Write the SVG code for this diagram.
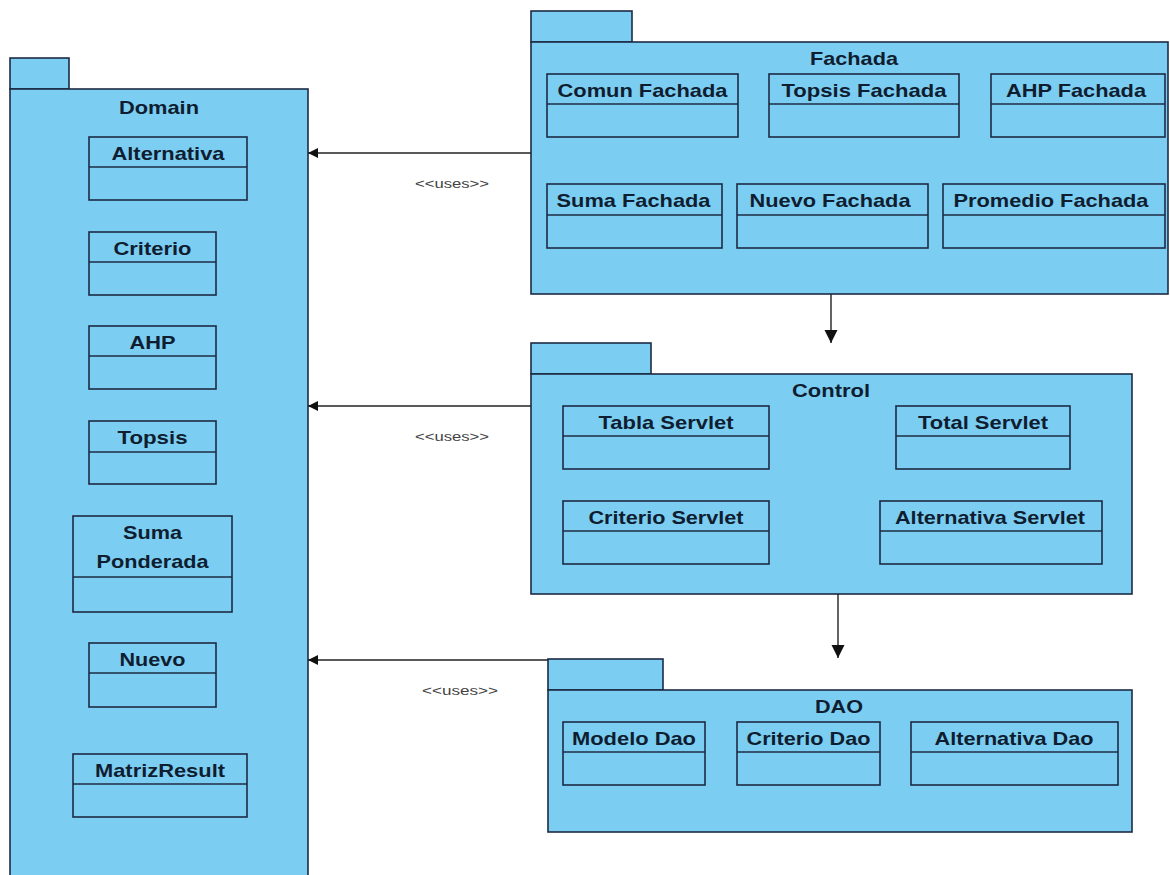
<svg xmlns="http://www.w3.org/2000/svg" width="1170" height="875" viewBox="0 0 1170 875">
  <style>
    .pkg { fill: #7ccdf2; stroke: #1c2b44; stroke-width: 1.6; }
    .cls { fill: #7ccdf2; stroke: #1c2b44; stroke-width: 1.6; }
    .div { stroke: #1c2b44; stroke-width: 1.6; }
    .t { font-family: "Liberation Sans", Arial, sans-serif; font-weight: bold; font-size: 19px; fill: #0f1d30; text-anchor: middle; }
    .conn { stroke: #222; stroke-width: 1.4; fill: none; }
    .lbl { font-family: "Liberation Sans", Arial, sans-serif; font-size: 12px; fill: #444; text-anchor: middle; }
  </style>
  <defs>
    <marker id="arrow" viewBox="0 0 10 10" refX="10" refY="5" markerWidth="10" markerHeight="10" markerUnits="userSpaceOnUse" orient="auto">
      <path d="M0,0 L10,5 L0,10 Z" fill="#111"/>
    </marker>
    <marker id="arrowV" viewBox="0 0 10 10" refX="10" refY="5" markerWidth="13" markerHeight="14" markerUnits="userSpaceOnUse" orient="auto">
      <path d="M0,0 L10,5 L0,10 Z" fill="#111"/>
    </marker>
  </defs>
  <rect width="1170" height="875" fill="#ffffff"/>

  <!-- Domain package -->
  <g id="domain">
    <rect class="pkg" x="10" y="58" width="59" height="31"/>
    <rect class="pkg" x="10" y="89" width="298" height="800"/>
    <text class="t" x="159" y="114" textLength="80" lengthAdjust="spacingAndGlyphs">Domain</text>
    <g id="alternativa">
      <rect class="cls" x="89" y="137" width="158" height="63"/>
      <line class="div" x1="89" y1="167" x2="247" y2="167"/>
      <text class="t" x="168" y="160" textLength="113" lengthAdjust="spacingAndGlyphs">Alternativa</text>
    </g>
    <g id="criterio">
      <rect class="cls" x="89" y="232" width="127" height="63"/>
      <line class="div" x1="89" y1="262" x2="216" y2="262"/>
      <text class="t" x="152.5" y="255" textLength="78" lengthAdjust="spacingAndGlyphs">Criterio</text>
    </g>
    <g id="ahp">
      <rect class="cls" x="89" y="326" width="127" height="63"/>
      <line class="div" x1="89" y1="356" x2="216" y2="356"/>
      <text class="t" x="152.5" y="349" textLength="46" lengthAdjust="spacingAndGlyphs">AHP</text>
    </g>
    <g id="topsis">
      <rect class="cls" x="89" y="421" width="127" height="63"/>
      <line class="div" x1="89" y1="452" x2="216" y2="452"/>
      <text class="t" x="152.5" y="444" textLength="70" lengthAdjust="spacingAndGlyphs">Topsis</text>
    </g>
    <g id="suma-ponderada">
      <rect class="cls" x="73" y="516" width="159" height="96"/>
      <line class="div" x1="73" y1="577" x2="232" y2="577"/>
      <text class="t" x="152.5" y="539" textLength="59" lengthAdjust="spacingAndGlyphs">Suma</text>
      <text class="t" x="152.5" y="568" textLength="112" lengthAdjust="spacingAndGlyphs">Ponderada</text>
    </g>
    <g id="nuevo">
      <rect class="cls" x="89" y="643" width="127" height="64"/>
      <line class="div" x1="89" y1="673" x2="216" y2="673"/>
      <text class="t" x="152.5" y="666" textLength="66" lengthAdjust="spacingAndGlyphs">Nuevo</text>
    </g>
    <g id="matriz-result">
      <rect class="cls" x="73" y="754" width="174" height="63"/>
      <line class="div" x1="73" y1="784" x2="247" y2="784"/>
      <text class="t" x="160" y="777" textLength="130" lengthAdjust="spacingAndGlyphs">MatrizResult</text>
    </g>
  </g>

  <!-- Fachada package -->
  <g id="fachada">
    <rect class="pkg" x="531" y="11" width="101" height="31"/>
    <rect class="pkg" x="531" y="42" width="637" height="252"/>
    <text class="t" x="854" y="65" textLength="88" lengthAdjust="spacingAndGlyphs">Fachada</text>
    <g id="comun-fachada">
      <rect class="cls" x="547" y="74" width="191" height="63"/>
      <line class="div" x1="547" y1="104" x2="738" y2="104"/>
      <text class="t" x="642.5" y="97" textLength="170" lengthAdjust="spacingAndGlyphs">Comun Fachada</text>
    </g>
    <g id="topsis-fachada">
      <rect class="cls" x="769" y="74" width="190" height="63"/>
      <line class="div" x1="769" y1="104" x2="959" y2="104"/>
      <text class="t" x="864" y="97" textLength="165" lengthAdjust="spacingAndGlyphs">Topsis Fachada</text>
    </g>
    <g id="ahp-fachada">
      <rect class="cls" x="991" y="74" width="174" height="63"/>
      <line class="div" x1="991" y1="104" x2="1165" y2="104"/>
      <text class="t" x="1076" y="97" textLength="140" lengthAdjust="spacingAndGlyphs">AHP Fachada</text>
    </g>
    <g id="suma-fachada">
      <rect class="cls" x="547" y="184" width="175" height="64"/>
      <line class="div" x1="547" y1="215" x2="722" y2="215"/>
      <text class="t" x="633.5" y="207" textLength="154" lengthAdjust="spacingAndGlyphs">Suma Fachada</text>
    </g>
    <g id="nuevo-fachada">
      <rect class="cls" x="737" y="184" width="191" height="64"/>
      <line class="div" x1="737" y1="215" x2="928" y2="215"/>
      <text class="t" x="830" y="207" textLength="161" lengthAdjust="spacingAndGlyphs">Nuevo Fachada</text>
    </g>
    <g id="promedio-fachada">
      <rect class="cls" x="943" y="184" width="222" height="64"/>
      <line class="div" x1="943" y1="215" x2="1165" y2="215"/>
      <text class="t" x="1051" y="207" textLength="195" lengthAdjust="spacingAndGlyphs">Promedio Fachada</text>
    </g>
  </g>

  <!-- Control package -->
  <g id="control">
    <rect class="pkg" x="531" y="343" width="120" height="31"/>
    <rect class="pkg" x="531" y="374" width="601" height="220"/>
    <text class="t" x="831" y="397" textLength="78" lengthAdjust="spacingAndGlyphs">Control</text>
    <g id="tabla-servlet">
      <rect class="cls" x="563" y="406" width="206" height="63"/>
      <line class="div" x1="563" y1="436" x2="769" y2="436"/>
      <text class="t" x="666" y="429" textLength="135" lengthAdjust="spacingAndGlyphs">Tabla Servlet</text>
    </g>
    <g id="total-servlet">
      <rect class="cls" x="896" y="406" width="174" height="63"/>
      <line class="div" x1="896" y1="436" x2="1070" y2="436"/>
      <text class="t" x="983" y="429" textLength="130" lengthAdjust="spacingAndGlyphs">Total Servlet</text>
    </g>
    <g id="criterio-servlet">
      <rect class="cls" x="563" y="501" width="206" height="63"/>
      <line class="div" x1="563" y1="531" x2="769" y2="531"/>
      <text class="t" x="666" y="524" textLength="155" lengthAdjust="spacingAndGlyphs">Criterio Servlet</text>
    </g>
    <g id="alternativa-servlet">
      <rect class="cls" x="880" y="501" width="222" height="63"/>
      <line class="div" x1="880" y1="531" x2="1102" y2="531"/>
      <text class="t" x="990" y="524" textLength="190" lengthAdjust="spacingAndGlyphs">Alternativa Servlet</text>
    </g>
  </g>

  <!-- DAO package -->
  <g id="dao">
    <rect class="pkg" x="548" y="659" width="115" height="31"/>
    <rect class="pkg" x="548" y="690" width="584" height="142"/>
    <text class="t" x="839" y="713" textLength="48" lengthAdjust="spacingAndGlyphs">DAO</text>
    <g id="modelo-dao">
      <rect class="cls" x="563" y="722" width="142" height="63"/>
      <line class="div" x1="563" y1="752" x2="705" y2="752"/>
      <text class="t" x="634" y="745" textLength="124" lengthAdjust="spacingAndGlyphs">Modelo Dao</text>
    </g>
    <g id="criterio-dao">
      <rect class="cls" x="737" y="722" width="143" height="63"/>
      <line class="div" x1="737" y1="752" x2="880" y2="752"/>
      <text class="t" x="808.5" y="745" textLength="124" lengthAdjust="spacingAndGlyphs">Criterio Dao</text>
    </g>
    <g id="alternativa-dao">
      <rect class="cls" x="911" y="722" width="207" height="63"/>
      <line class="div" x1="911" y1="752" x2="1118" y2="752"/>
      <text class="t" x="1014" y="745" textLength="159" lengthAdjust="spacingAndGlyphs">Alternativa Dao</text>
    </g>
  </g>

  <!-- Dependencies -->
  <g id="connectors">
    <line class="conn" x1="531" y1="153" x2="308" y2="153" marker-end="url(#arrow)"/>
    <text class="lbl" x="452" y="188" textLength="74" lengthAdjust="spacingAndGlyphs">&lt;&lt;uses&gt;&gt;</text>
    <line class="conn" x1="531" y1="406" x2="308" y2="406" marker-end="url(#arrow)"/>
    <text class="lbl" x="452" y="441" textLength="74" lengthAdjust="spacingAndGlyphs">&lt;&lt;uses&gt;&gt;</text>
    <line class="conn" x1="548" y1="660" x2="308" y2="660" marker-end="url(#arrow)"/>
    <text class="lbl" x="460" y="695" textLength="76" lengthAdjust="spacingAndGlyphs">&lt;&lt;uses&gt;&gt;</text>
    <line class="conn" x1="831" y1="294" x2="831" y2="343" marker-end="url(#arrowV)"/>
    <line class="conn" x1="838" y1="594" x2="838" y2="658" marker-end="url(#arrowV)"/>
  </g>
</svg>
